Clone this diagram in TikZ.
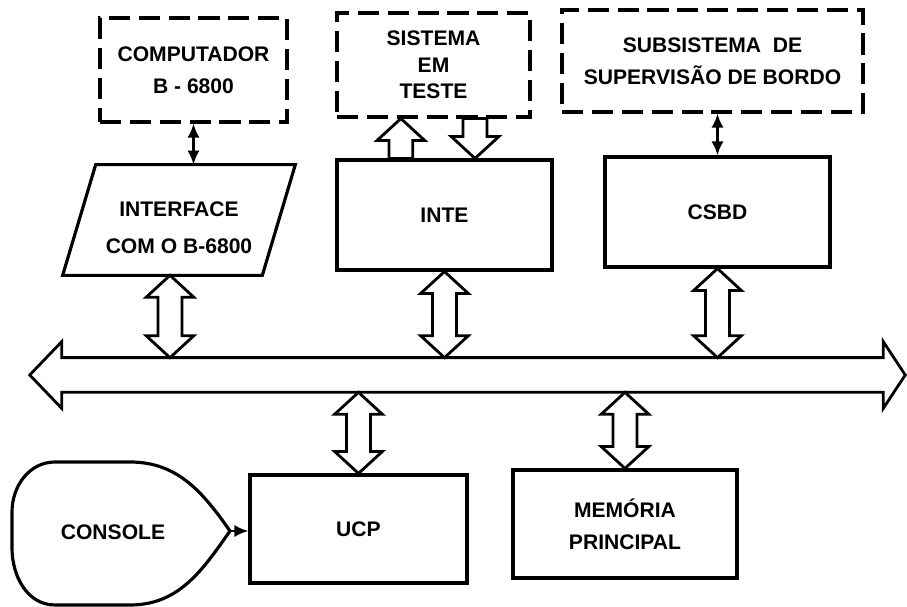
\documentclass[tikz,border=0pt]{standalone}
\usepackage{fontspec}
\setmainfont{Liberation Sans}
\usepackage{tikz}
\usetikzlibrary{arrows.meta,calc}
\def\fhw{13.6pt}\def\fsw{6.8pt}\def\fhl{12.5pt}
\newcommand\dfat[2]{\path[fat] let \p1=(#1), \p2=(#2) in (\x1,\y1) -- (\x1+\fhw,\y1-\fhl) -- (\x1+\fsw,\y1-\fhl) -- (\x1+\fsw,\y2+\fhl) -- (\x1+\fhw,\y2+\fhl) -- (\x1,\y2) -- (\x1-\fhw,\y2+\fhl) -- (\x1-\fsw,\y2+\fhl) -- (\x1-\fsw,\y1-\fhl) -- (\x1-\fhw,\y1-\fhl) -- cycle;}
\newcommand\upfat[2]{\path[fat] let \p1=(#1), \p2=(#2) in (\x1,\y1) -- (\x1+\fhw,\y1-\fhl) -- (\x1+\fsw,\y1-\fhl) -- (\x1+\fsw,\y2) -- (\x1-\fsw,\y2) -- (\x1-\fsw,\y1-\fhl) -- (\x1-\fhw,\y1-\fhl) -- cycle;}
\newcommand\dnfat[2]{\path[fat] let \p1=(#1), \p2=(#2) in (\x1+\fsw,\y1) -- (\x1+\fsw,\y2+\fhl) -- (\x1+\fhw,\y2+\fhl) -- (\x1,\y2) -- (\x1-\fhw,\y2+\fhl) -- (\x1-\fsw,\y2+\fhl) -- (\x1-\fsw,\y1) -- cycle;}

\begin{document}
\begin{tikzpicture}[x=0.02cm,y=-0.02cm,box/.style={draw,line width=1.8pt,align=center,inner sep=2pt,font=\fontsize{12}{18}\selectfont\bfseries},dbox/.style={box,dash pattern=on 12pt off 5pt},fat/.style={draw,line width=1.6pt,fill=white,line join=miter},link/.style={{Latex[length=8pt,width=7pt]}-{Latex[length=8pt,width=7pt]},line width=1.5pt},feed/.style={-{Latex[length=8pt,width=7pt]},line width=1.5pt}]
\useasboundingbox (0,0) rectangle (907,607);
\node[dbox,minimum width=3.74cm,minimum height=2.08cm] (comp) at (193.5,70) {COMPUTADOR\\B - 6800};
\node[dbox,minimum width=3.86cm,minimum height=2.08cm,font=\fontsize{12}{15}\selectfont\bfseries] (sut) at (433.5,65) {SISTEMA\\EM\\TESTE};
\node[dbox,minimum width=6.02cm,minimum height=2.04cm] (subsup) at (712.5,61) {SUBSISTEMA\ \ DE\\SUPERVISÃO DE BORDO};
\node[align=center,minimum width=3.98cm,minimum height=2.2cm,font=\fontsize{12}{21}\selectfont\bfseries] (iface) at (179,228) {INTERFACE\\COM O B-6800};
\draw[line width=1.8pt,line join=miter] ($(iface.south west)+(-16.5,-8)$) -- ($(iface.south east)+(-16.5,-8)$) -- ($(iface.north east)+(16.5,-8)$) -- ($(iface.north west)+(16.5,-8)$) -- cycle;
\coordinate (ifbot) at ($(iface.south)+(-9,-8)$);
\coordinate (iftop) at ($(iface.north)+(16.5,-8)$);
\node[box,minimum width=4.3cm,minimum height=2.2cm] (inte) at (444.5,215) {INTE};
\node[box,minimum width=4.5cm,minimum height=2.2cm] (csbd) at (717.5,212) {CSBD};
\node[box,minimum width=4.34cm,minimum height=2.16cm] (ucp) at (358.5,529) {UCP};
\node[box,minimum width=4.48cm,minimum height=2.16cm] (mem) at (625,524) {MEMÓRIA\\PRINCIPAL};
\node[font=\fontsize{12}{18}\selectfont\bfseries] (console) at (113,532) {CONSOLE};
\coordinate (ctip) at (230,531);
\draw[line width=1.8pt] (ctip) to[out=125,in=0] (130,462) -- (55,462) to[out=180,in=90] (12,512) -- (12,548) to[out=-90,in=180] (55,605) -- (130,605) to[out=0,in=-125] (ctip);
\node[minimum width=16.42cm,minimum height=0.68cm,inner sep=0pt] (bus) at (472.5,375) {};
\draw[fat] (bus.north west) -- (bus.north east) -- ++(0,-16) -- ($(bus.east)+(22,0)$) -- ($(bus.south east)+(0,16)$) -- (bus.south east) -- (bus.south west) -- ++(0,16) -- ($(bus.west)+(-32,0)$) -- ($(bus.north west)+(0,-16)$) -- cycle;
\dfat{ifbot}{bus.north -| ifbot}
\dfat{inte.south}{bus.north -| inte.south}
\dfat{csbd.south}{bus.north -| csbd.south}
\dfat{bus.south -| ucp.north}{ucp.north}
\dfat{bus.south -| mem.north}{mem.north}
\coordinate (inup) at ($(inte.north west)!0.3!(inte.north east)$);
\coordinate (indn) at ($(inte.north west)!0.64!(inte.north east)$);
\upfat{sut.south -| inup}{inup}
\dnfat{sut.south -| indn}{indn}
\draw[link] (comp.south) -- (comp.south |- iftop);
\draw[link] (csbd.north) -- (csbd.north |- subsup.south);
\draw[feed] (ctip) -- (ctip -| ucp.west);
\end{tikzpicture}
\end{document}
